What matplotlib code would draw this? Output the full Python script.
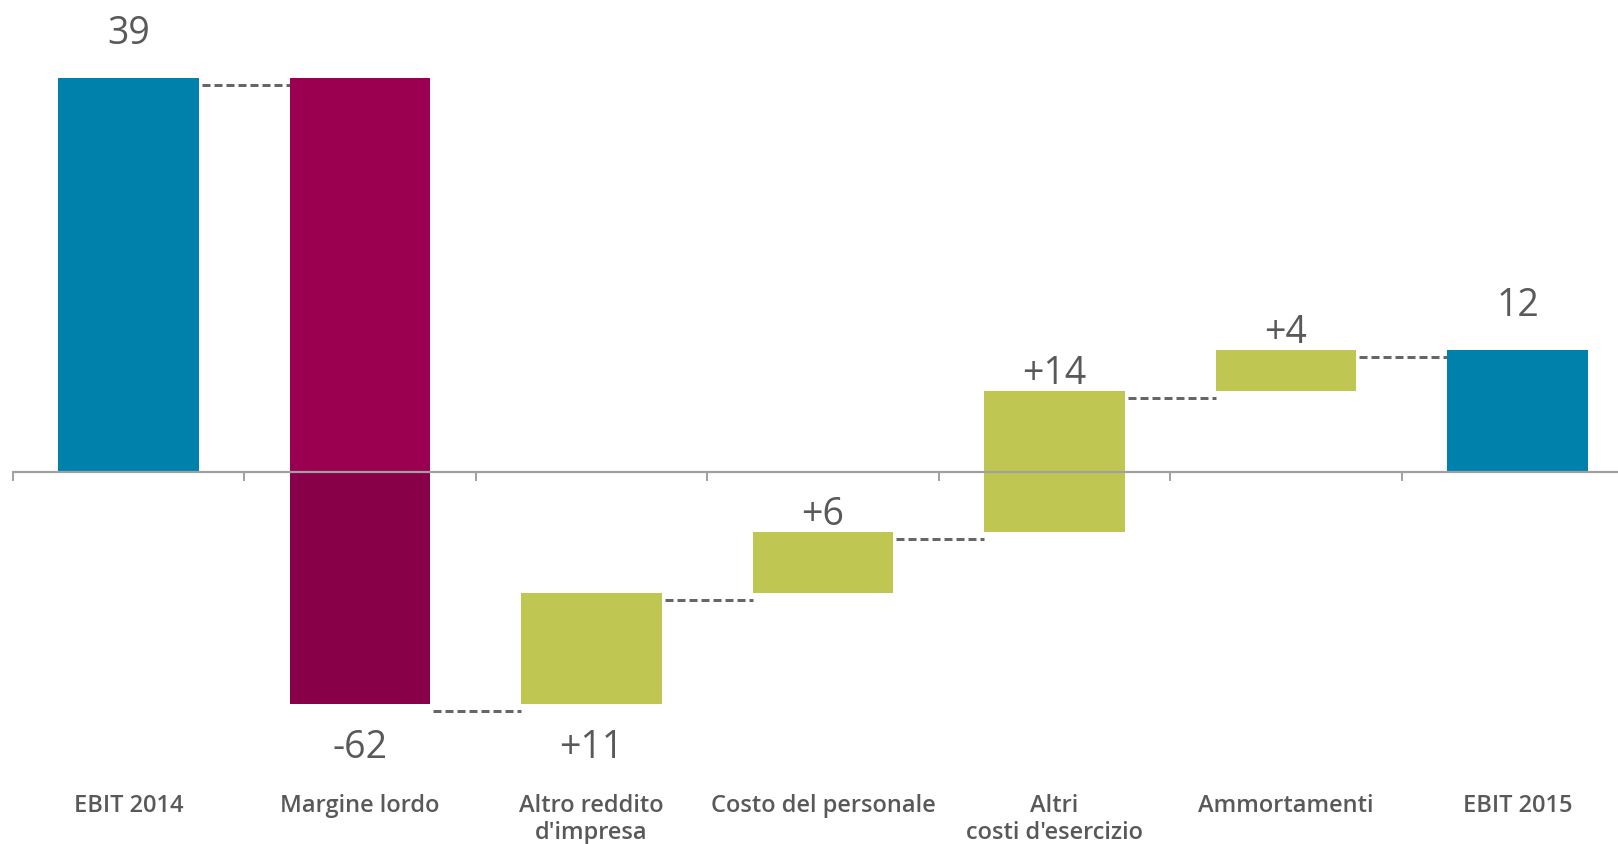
#!/usr/bin/env python3
"""Waterfall chart: EBIT 2014 -> EBIT 2015 bridge."""

import matplotlib

matplotlib.use("Agg")

import matplotlib.pyplot as plt

categories = [
    "EBIT 2014",
    "Margine lordo",
    "Altro reddito\nd'impresa",
    "Costo del personale",
    "Altri\ncosti d'esercizio",
    "Ammortamenti",
    "EBIT 2015",
]
changes = [39, -62, 11, 6, 14, 4, 12]
value_labels = ["39", "-62", "+11", "+6", "+14", "+4", "12"]
is_total = [True, False, False, False, False, False, True]
label_below = [False, True, True, False, False, False, False]

TEAL = "#0081ab"
MAGENTA = "#9b0050"
MAGENTA_DARK = "#870048"
GREEN = "#bfc752"
TEXT = "#595959"
AXIS = "#a0a0a0"
DASH = "#666666"

BAR_WIDTH = 0.607
FONT = ["Open Sans", "DejaVu Sans"]


def main() -> int:
    fig = plt.figure(figsize=(16.18, 8.44), dpi=100)
    ax = fig.add_axes([0, 0, 1, 1])
    ax.set_xlim(-0.555, 6.434)
    ax.set_ylim(-36.87, 46.69)
    ax.axis("off")

    # bar spans
    spans = []
    running = 0
    for change, total in zip(changes, is_total):
        if total:
            spans.append((0, change))
            running = change
        else:
            spans.append((running, running + change))
            running += change

    for i, (start, end) in enumerate(spans):
        low, high = min(start, end), max(start, end)
        if is_total[i]:
            ax.bar(i, high - low, bottom=low, width=BAR_WIDTH, color=TEAL, zorder=2)
        elif changes[i] < 0:
            # part above zero is lighter than the part below
            if high > 0:
                ax.bar(i, high - max(low, 0), bottom=max(low, 0), width=BAR_WIDTH,
                       color=MAGENTA, zorder=2)
            if low < 0:
                ax.bar(i, min(high, 0) - low, bottom=low, width=BAR_WIDTH,
                       color=MAGENTA_DARK, zorder=2)
        else:
            ax.bar(i, high - low, bottom=low, width=BAR_WIDTH, color=GREEN, zorder=2)

    # connectors
    for i in range(len(spans) - 1):
        level = spans[i][1]
        ax.plot(
            [i + BAR_WIDTH / 2 + 0.013, i + 1 - BAR_WIDTH / 2],
            [level - 0.7, level - 0.7],
            color=DASH,
            linewidth=2.16,
            linestyle=(0, (2.67, 1.33)),
            zorder=1,
        )

    # zero axis with downward ticks at category boundaries
    ax.plot([-0.5, 6.434], [0, 0], color=AXIS, linewidth=1.6, zorder=3,
            solid_capstyle="butt")
    for i in range(len(categories)):
        ax.plot([i - 0.5, i - 0.5], [0, -0.8], color=AXIS, linewidth=1.4, zorder=3)

    # value labels
    for i, (start, end) in enumerate(spans):
        high, low = max(start, end), min(start, end)
        if label_below[i]:
            ax.annotate(value_labels[i], (i, low), xytext=(0, -25),
                        textcoords="offset pixels", ha="center", va="top",
                        fontsize=27, color=TEXT, family=FONT)
        else:
            gap = 34 if is_total[i] else 7
            ax.annotate(value_labels[i], (i, high), xytext=(0, gap),
                        textcoords="offset pixels", ha="center", va="baseline",
                        fontsize=27, color=TEXT, family=FONT)

    # category labels
    for i, name in enumerate(categories):
        ax.text(i, -31.9, name, ha="center", va="top", fontsize=17,
                color=TEXT, family=FONT, fontweight="semibold", linespacing=1.2)

    fig.savefig("out.png", dpi=100)
    plt.close(fig)
    return 0


if __name__ == "__main__":
    raise SystemExit(main())
